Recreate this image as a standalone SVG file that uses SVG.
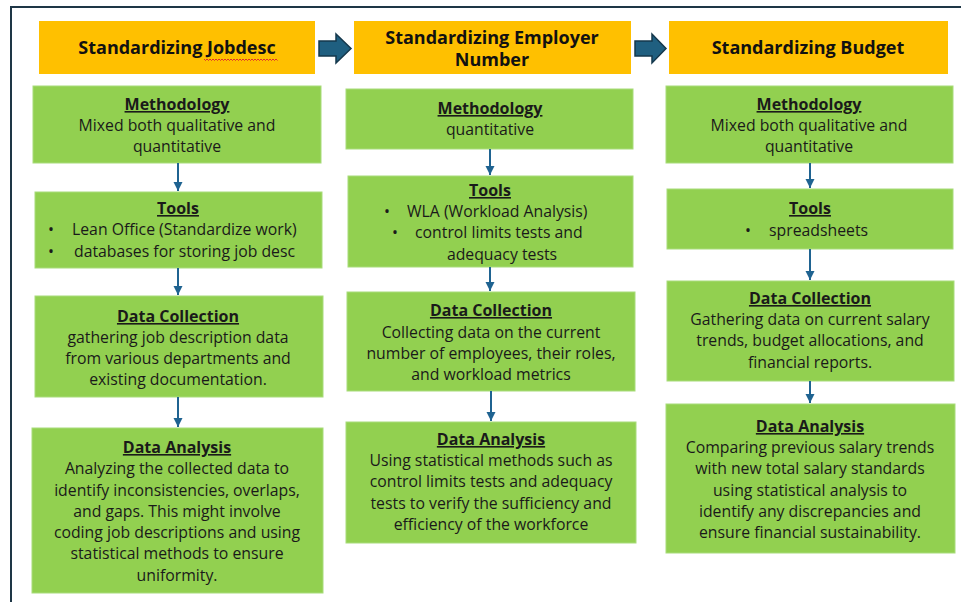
<svg xmlns="http://www.w3.org/2000/svg" width="961" height="602" viewBox="0 0 961 602">
  <style>
    .frame { fill: none; stroke: #1e3646; stroke-width: 2; }
    .head { fill: #FFC000; }
    .box { fill: #92D050; stroke: #a8dc7a; stroke-width: 1; }
    .big { fill: #1f5f80; stroke: #15384c; stroke-width: 1.5; }
    text { font-family: "Open Sans", "Liberation Sans", sans-serif; fill: #1a1a1a; text-anchor: middle; }
    .ht { font-size: 18px; font-weight: 700; fill: #111; }
    .tt { font-size: 16px; font-weight: 700; text-decoration: underline; }
    .bt { font-size: 15.8px; }
    .lft { text-anchor: start; }
    .conn { stroke: #1f6391; stroke-width: 2; fill: none; marker-end: url(#tip); }
    .squig { fill: none; stroke: #e0302c; stroke-width: 1; }
  </style>
  <defs>
    <marker id="tip" markerUnits="userSpaceOnUse" markerWidth="10" markerHeight="10" refX="9" refY="5" orient="auto">
      <path d="M0,0.5 L9,5 L0,9.5 z" fill="#1f6391"/>
    </marker>
  </defs>

  <rect width="961" height="602" fill="#ffffff"/>
  <!-- outer frame (top and left edges) -->
  <path class="frame" d="M11,602 L11,7 L961,7"/>

  <!-- column headers -->
  <g id="head-jobdesc">
    <rect class="head" x="39" y="21" width="276" height="53"/>
    <text class="ht" x="177" y="54">Standardizing Jobdesc</text>
    <path class="squig" d="M204,59 l1.5,1.5 l1.5,-1.5 l1.5,1.5 l1.5,-1.5 l1.5,1.5 l1.5,-1.5 l1.5,1.5 l1.5,-1.5 l1.5,1.5 l1.5,-1.5 l1.5,1.5 l1.5,-1.5 l1.5,1.5 l1.5,-1.5 l1.5,1.5 l1.5,-1.5 l1.5,1.5 l1.5,-1.5 l1.5,1.5 l1.5,-1.5 l1.5,1.5 l1.5,-1.5 l1.5,1.5 l1.5,-1.5 l1.5,1.5 l1.5,-1.5 l1.5,1.5 l1.5,-1.5 l1.5,1.5 l1.5,-1.5 l1.5,1.5 l1.5,-1.5 l1.5,1.5 l1.5,-1.5 l1.5,1.5 l1.5,-1.5 l1.5,1.5 l1.5,-1.5 l1.5,1.5 l1.5,-1.5 l1.5,1.5 l1.5,-1.5 l1.5,1.5 l1.5,-1.5 l1.5,1.5 l1.5,-1.5 l1.5,1.5 l1.5,-1.5 l1.5,1.5"/>
  </g>
  <g id="head-employer">
    <rect class="head" x="354" y="21" width="277" height="53"/>
    <text class="ht" x="492" y="44">Standardizing Employer</text>
    <text class="ht" x="492" y="66">Number</text>
  </g>
  <g id="head-budget">
    <rect class="head" x="669" y="21" width="279" height="53"/>
    <text class="ht" x="808" y="54">Standardizing Budget</text>
  </g>

  <!-- column 1: job descriptions -->
  <g id="jd-method">
    <rect class="box" x="33" y="86" width="288" height="77"/>
    <text class="tt" x="177" y="110">Methodology</text>
    <text class="bt" x="177" y="131">Mixed both qualitative and</text>
    <text class="bt" x="177" y="152">quantitative</text>
  </g>
  <g id="jd-tools">
    <rect class="box" x="35" y="192" width="287" height="76"/>
    <text class="tt" x="178" y="214">Tools</text>
    <text class="bt lft" x="48" y="235">•</text>
    <text class="bt lft" x="72" y="235">Lean Office (Standardize work)</text>
    <text class="bt lft" x="48" y="257">•</text>
    <text class="bt lft" x="74" y="257">databases for storing job desc</text>
  </g>
  <g id="jd-collect">
    <rect class="box" x="35" y="296" width="288" height="101"/>
    <text class="tt" x="178" y="322">Data Collection</text>
    <text class="bt" x="178" y="343">gathering job description data</text>
    <text class="bt" x="178" y="364">from various departments and</text>
    <text class="bt" x="178" y="385">existing documentation.</text>
  </g>
  <g id="jd-analysis">
    <rect class="box" x="32" y="428" width="291" height="165"/>
    <text class="tt" x="177" y="453">Data Analysis</text>
    <text class="bt" x="177" y="474">Analyzing the collected data to</text>
    <text class="bt" x="177" y="496">identify inconsistencies, overlaps,</text>
    <text class="bt" x="177" y="517">and gaps. This might involve</text>
    <text class="bt" x="177" y="538">coding job descriptions and using</text>
    <text class="bt" x="177" y="559">statistical methods to ensure</text>
    <text class="bt" x="177" y="581">uniformity.</text>
  </g>

  <!-- column 2: employee numbers -->
  <g id="en-method">
    <rect class="box" x="346" y="89" width="287" height="60"/>
    <text class="tt" x="490" y="114">Methodology</text>
    <text class="bt" x="490" y="135">quantitative</text>
  </g>
  <g id="en-tools">
    <rect class="box" x="348" y="176" width="285" height="91"/>
    <text class="tt" x="490" y="196">Tools</text>
    <text class="bt lft" x="384" y="217">•</text>
    <text class="bt lft" x="407" y="217">WLA (Workload Analysis)</text>
    <text class="bt lft" x="392" y="238">•</text>
    <text class="bt lft" x="415" y="238">control limits tests and</text>
    <text class="bt" x="502" y="260">adequacy tests</text>
  </g>
  <g id="en-collect">
    <rect class="box" x="347" y="292" width="288" height="99"/>
    <text class="tt" x="491" y="316">Data Collection</text>
    <text class="bt" x="491" y="338">Collecting data on the current</text>
    <text class="bt" x="491" y="359">number of employees, their roles,</text>
    <text class="bt" x="491" y="380">and workload metrics</text>
  </g>
  <g id="en-analysis">
    <rect class="box" x="346" y="422" width="290" height="121"/>
    <text class="tt" x="491" y="445">Data Analysis</text>
    <text class="bt" x="491" y="466">Using statistical methods such as</text>
    <text class="bt" x="491" y="487">control limits tests and adequacy</text>
    <text class="bt" x="491" y="509">tests to verify the sufficiency and</text>
    <text class="bt" x="491" y="530">efficiency of the workforce</text>
  </g>

  <!-- column 3: budget -->
  <g id="bg-method">
    <rect class="box" x="666" y="86" width="287" height="77"/>
    <text class="tt" x="809" y="110">Methodology</text>
    <text class="bt" x="809" y="131">Mixed both qualitative and</text>
    <text class="bt" x="809" y="152">quantitative</text>
  </g>
  <g id="bg-tools">
    <rect class="box" x="667" y="189" width="286" height="60"/>
    <text class="tt" x="810" y="214">Tools</text>
    <text class="bt lft" x="745" y="236">•</text>
    <text class="bt lft" x="769" y="236">spreadsheets</text>
  </g>
  <g id="bg-collect">
    <rect class="box" x="667" y="281" width="287" height="100"/>
    <text class="tt" x="810" y="304">Data Collection</text>
    <text class="bt" x="810" y="325">Gathering data on current salary</text>
    <text class="bt" x="810" y="346">trends, budget allocations, and</text>
    <text class="bt" x="810" y="368">financial reports.</text>
  </g>
  <g id="bg-analysis">
    <rect class="box" x="666" y="404" width="289" height="149"/>
    <text class="tt" x="810" y="432">Data Analysis</text>
    <text class="bt" x="810" y="453">Comparing previous salary trends</text>
    <text class="bt" x="810" y="474">with new total salary standards</text>
    <text class="bt" x="810" y="496">using statistical analysis to</text>
    <text class="bt" x="810" y="517">identify any discrepancies and</text>
    <text class="bt" x="810" y="538">ensure financial sustainability.</text>
  </g>

  <!-- connectors -->
  <g id="connectors">
    <path class="big" d="M319,41 L336,41 L336,34 L351,48.5 L336,63 L336,56 L319,56 z"/>
    <path class="big" d="M635,41 L652,41 L652,34 L666,48.5 L652,63 L652,56 L635,56 z"/>
    <line class="conn" x1="178" y1="163" x2="178" y2="191"/>
    <line class="conn" x1="178" y1="268" x2="178" y2="295"/>
    <line class="conn" x1="178" y1="397" x2="178" y2="427"/>
    <line class="conn" x1="490" y1="149" x2="490" y2="175"/>
    <line class="conn" x1="490" y1="267" x2="490" y2="291"/>
    <line class="conn" x1="491" y1="391" x2="491" y2="421"/>
    <line class="conn" x1="810" y1="163" x2="810" y2="188"/>
    <line class="conn" x1="810" y1="249" x2="810" y2="280"/>
    <line class="conn" x1="810" y1="381" x2="810" y2="403"/>
  </g>
</svg>
